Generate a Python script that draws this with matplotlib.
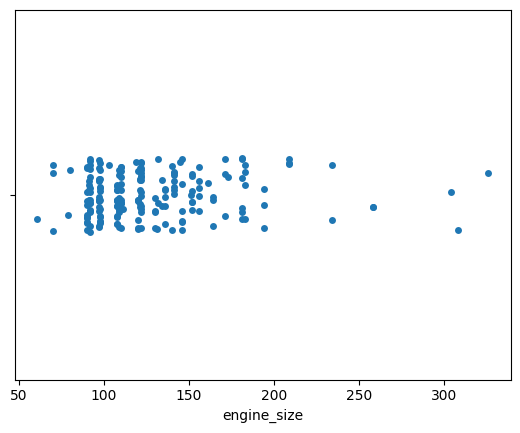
import matplotlib
matplotlib.use("Agg")
import matplotlib.pyplot as plt
import numpy as np
import pandas as pd
import seaborn as sns

alfa = [130, 130, 152]
audi = [109, 136, 136, 136, 136, 131]
bmw = [108, 108, 164, 164, 164, 209, 209, 209]
chevrolet = [61, 90, 90]
dodge = [90, 90, 90, 98, 90, 90, 90, 122, 156]
honda = [92, 92, 79, 92, 92, 92, 92, 110, 110, 110, 110, 110, 110]
isuzu = [111, 119]
jaguar = [258, 258, 326]
mazda = [91, 91, 91, 91, 91, 70, 70, 70, 80, 122, 122, 122, 122, 122, 140, 134, 122]
mercedes = [183, 183, 183, 183, 234, 234, 308, 304]
mercury = [140]
mitsubishi = [92, 92, 92, 98, 110, 122, 156, 156, 156, 122, 110, 110, 110]
nissan = [97, 103, 97, 97, 97, 97, 97, 97, 97, 120, 120, 181, 181, 181, 181, 181, 181]
peugot = [120, 152, 120, 152, 120, 152, 120, 152, 120, 152, 134]
plymouth = [90, 98, 90, 90, 98, 122, 156]
porsche = [151, 194, 194, 194]
renault = [132, 132]
saab = [121, 121, 121, 121, 121, 121]
subaru = [97, 108, 108, 108, 108, 108, 108, 108, 108, 108, 108, 108]
toyota = [92, 92, 92, 92, 92, 92, 98, 98, 110, 110, 98, 98, 98, 98, 98, 98, 98,
          146, 146, 146, 146, 146, 146, 122, 110, 122, 122, 122, 171, 171, 171, 161]
volkswagen = [97, 109, 97, 109, 109, 97, 109, 109, 109, 136, 97, 109]
volvo = [141, 141, 141, 141, 130, 130, 141, 141, 173, 145, 141]

engine_size = (alfa + audi + bmw + chevrolet + dodge + honda + isuzu + jaguar + mazda
               + mercedes + mercury + mitsubishi + nissan + peugot + plymouth + porsche
               + renault + saab + subaru + toyota + volkswagen + volvo)

df = pd.DataFrame({"engine_size": engine_size})

np.random.seed(0)
fig, ax = plt.subplots(figsize=(6.4, 4.8), dpi=100)
sns.stripplot(x="engine_size", data=df, ax=ax)
fig.savefig("out.png", dpi=100, bbox_inches="tight")
